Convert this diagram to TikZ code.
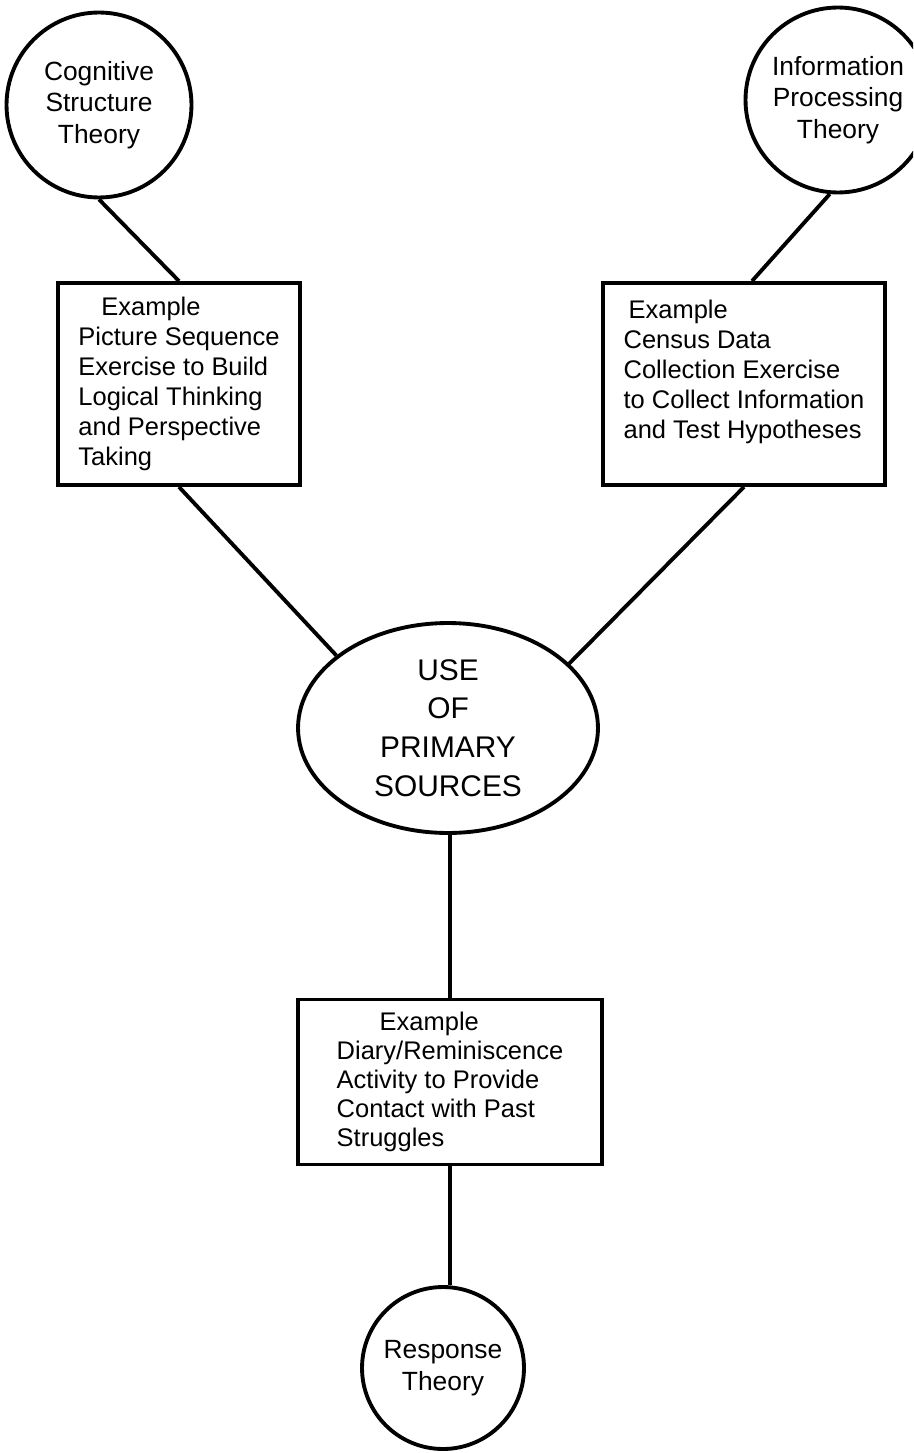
\documentclass[tikz,border=0pt]{standalone}
\usepackage{fontspec}
\setmainfont{Liberation Sans}
\usetikzlibrary{shapes.geometric}
\tikzset{theory/.style={circle, draw, line width=2.2pt, minimum size=3.7cm, inner sep=0pt,
                        align=center, font=\fontsize{15}{18}\selectfont},
         examplebox/.style={rectangle, draw, line width=2.2pt, align=left,
                        font=\fontsize{14.5}{17}\selectfont},
         link/.style={line width=2.2pt}}

\begin{document}
\begin{tikzpicture}[x=0.02cm, y=-0.02cm]
        \clip (0,0) rectangle (913,1453);
        % Nodes
        \node[theory] (cog) at (99,105) {Cognitive\\Structure\\Theory};
        \node[theory] (info) at (838,100) {Information\\Processing\\Theory};
        \node[examplebox, minimum width=4.84cm, minimum height=4.04cm] (pic) at (179,384)
            {\hspace*{0.46cm}Example\\Picture Sequence\\Exercise to Build\\Logical Thinking\\and Perspective\\Taking};
        \node[examplebox, minimum width=5.64cm, minimum height=4.04cm] (census) at (744,384)
            {\hspace*{0.1cm}Example\\Census Data\\Collection Exercise\\to Collect Information\\and Test Hypotheses\\~};
        \node[ellipse, draw, line width=2.2pt, minimum width=6cm, minimum height=4.2cm, inner sep=0pt,
              align=center, font=\fontsize{17}{22}\selectfont] (use) at (448,728)
            {USE\\OF\\PRIMARY\\SOURCES};
        \node[examplebox, minimum width=6.08cm, minimum height=3.3cm,
              font=\fontsize{14.5}{16.5}\selectfont] (diary) at (450,1082)
            {\hspace*{0.86cm}Example\\Diary/Reminiscence\\Activity to Provide\\Contact with Past\\Struggles};
        \node[theory, minimum size=3.24cm] (resp) at (443,1368) {Response\\Theory};

        % Edges
        \draw[link] (cog.south) -- (pic.north);
        \draw[link] (info.265) -- ([xshift=0.16cm]census.north);
        \draw[link] (pic.south) -- (use.147);
        \draw[link] (census.south) -- (use.28);
        \draw[link] (diary.north |- use.south) -- (diary.north);
        \draw[link] (diary.south) -- (diary.south |- resp.north);
\end{tikzpicture}
\end{document}
